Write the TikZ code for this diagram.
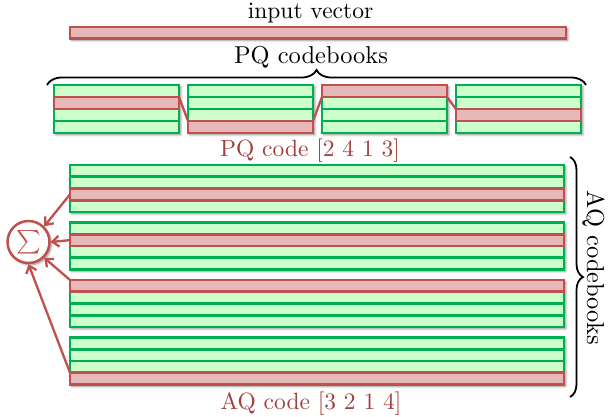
\documentclass[tikz,border=0pt]{standalone}
\usetikzlibrary{arrows.meta,decorations.pathreplacing,shadows.blur}
\definecolor{cbgreen}{RGB}{0,176,80}
\definecolor{cbgreenfill}{RGB}{204,255,204}
\definecolor{cbred}{RGB}{192,80,77}
\definecolor{cbredfill}{RGB}{230,185,184}
\definecolor{cbtext}{RGB}{160,64,61}
\tikzset{
  cell/.style={rectangle,inner sep=0pt,outer sep=0pt,line width=2.9pt},
  gcell/.style={cell,draw=cbgreen,fill=cbgreenfill},
  rcell/.style={cell,draw=cbred,fill=cbredfill},
  pqcell/.style={minimum width=125pt,minimum height=12pt},
  aqcell/.style={minimum width=494pt,minimum height=11.75pt},
  shadowbox/.style={blur shadow={shadow xshift=1.8pt,shadow yshift=-1.8pt,shadow blur steps=6,shadow blur radius=2.2pt,shadow opacity=45}},
  lbl/.style={scale=2.35,anchor=base,inner sep=0pt},
  redlbl/.style={lbl,text=cbtext},
  link/.style={draw=cbred,line width=2.3pt},
  arr/.style={link,-{Straight Barb[length=6.5pt,width=11pt,line width=2.3pt]}},
  bracestyle/.style={draw=black,line width=1.8pt,decorate},
}
\begin{document}
\begin{tikzpicture}[x=1pt,y=-1pt]
\useasboundingbox (0,0) rectangle (609,416);

% input vector
\path[shadowbox] (70,27) rectangle (566,38.5);
\node[rcell,minimum width=496pt,minimum height=11.5pt] (input) at (318,32.75) {};
\node[lbl] (inlbl) at (310.5,18.5) {input vector};

% PQ codebooks label and brace
\node[lbl,scale=1.04] (pqlbl) at (311,63.5) {PQ codebooks};
\coordinate (pqbl) at (47,85);
\coordinate (pqbr) at (586,85);
\draw[bracestyle,decoration={brace,amplitude=15pt}] (pqbl) -- (pqbr);

% PQ codebooks
\foreach \b/\sel in {1/2,2/4,3/1,4/3}{
  \pgfmathsetmacro\cx{116.5+134*(\b-1)}
  \path[shadowbox] (\cx-62.5,85) rectangle (\cx+62.5,133);
  \foreach \r in {1,2,3,4}{
    \pgfmathsetmacro\cy{91+12*(\r-1)}
    \ifnum\r=\sel\relax\else
      \node[gcell,pqcell] (pq-\b-\r) at (\cx,\cy) {};
    \fi
  }
  \pgfmathsetmacro\cy{91+12*(\sel-1)}
  \node[rcell,pqcell] (pq-\b-\sel) at (\cx,\cy) {};
}
\draw[link] (pq-1-2.north east) -- (pq-2-4.north west);
\draw[link] (pq-2-4.north east) -- (pq-3-1.south west);
\draw[link] (pq-3-1.south east) -- (pq-4-3.north west);
\node[redlbl] (pqcode) at (310,156.5) {PQ code [2 4 1 3]};

% AQ codebooks
\foreach \b/\sel in {1/3,2/2,3/1,4/4}{
  \pgfmathsetmacro\top{165+57.5*(\b-1)}
  \path[shadowbox] (70,\top) rectangle (564,\top+47);
  \foreach \r in {1,2,3,4}{
    \pgfmathsetmacro\cy{\top+5.875+11.75*(\r-1)}
    \ifnum\r=\sel\relax\else
      \node[gcell,aqcell] (aq-\b-\r) at (317,\cy) {};
    \fi
  }
  \pgfmathsetmacro\cy{\top+5.875+11.75*(\sel-1)}
  \node[rcell,aqcell] (aq-\b-\sel) at (317,\cy) {};
}
\node[redlbl] (aqcode) at (311,409.5) {AQ code [3 2 1 4]};

% AQ brace and label
\coordinate (aqbt) at (570,157);
\coordinate (aqbb) at (570,397);
\draw[bracestyle,decoration={brace,amplitude=13pt}] (aqbt) -- (aqbb);
\node[lbl,scale=1.04,rotate=-90] (aqlbl) at (587,268) {AQ codebooks};

% sum
\node[circle,draw=cbred,fill=white,line width=2.5pt,minimum size=42pt,inner sep=0pt,shadowbox,text=cbred] (sum) at (28.5,242) {\scalebox{2.35}{$\sum$}};
\draw[arr] (aq-1-3.west) -- (sum.north east);
\draw[arr] (aq-2-2.west) -- (sum.east);
\draw[arr] (aq-3-1.north west) -- (sum.south east);
\draw[arr] (aq-4-4.north west) -- (sum.south);
\end{tikzpicture}
\end{document}
